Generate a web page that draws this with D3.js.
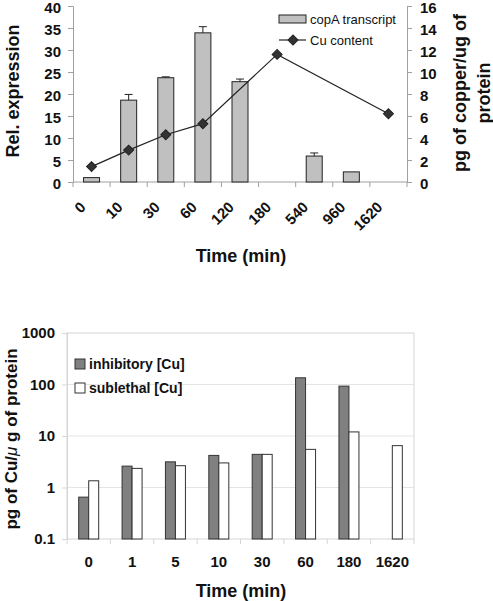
<!DOCTYPE html>
<html><head><meta charset="utf-8">
<script src="https://cdn.jsdelivr.net/npm/d3@7"></script>
<style>
html,body{margin:0;padding:0;background:#fff;}
text{font-family:"Liberation Sans",Arial,sans-serif;}
</style></head>
<body>
<svg id="chart" width="493" height="601"></svg>
<script>
// ---------- Top chart data ----------
const topCategories = ["0","10","30","60","120","180","540","960","1620"];
const copA = [1.0, 18.6, 23.7, 33.9, 22.8, null, 5.9, 2.3, null];
const copAErr = [0, 1.3, 0.2, 1.4, 0.6, null, 0.7, 0, null];
const cuContent = [1.4, 2.9, 4.3, 5.3, null, 11.6, null, null, 6.2];
const leftTicks = [0,5,10,15,20,25,30,35,40];
const rightTicks = [0,2,4,6,8,10,12,14,16];

// ---------- Bottom chart data ----------
const botCategories = ["0","1","5","10","30","60","180","1620"];
const inhibitory = [0.65, 2.6, 3.15, 4.2, 4.4, 135, 93, null];
const sublethal = [1.35, 2.35, 2.65, 3.0, 4.4, 5.5, 12.0, 6.5];
const logTicks = [0.1, 1, 10, 100, 1000];
const logTickLabels = ["0.1","1","10","100","1000"];

const svg = d3.select("#chart");
const axisGray = "#a0a0a0";

// ================= TOP CHART =================
const T = {l:73, r:407, t:6, b:182};
const xT = d3.scaleBand().domain(topCategories).range([T.l, T.r]).padding(0);
const yL = d3.scaleLinear().domain([0,40]).range([T.b, T.t]);
const yR = d3.scaleLinear().domain([0,16]).range([T.b, T.t]);
const gT = svg.append("g");

// left axis
const axL = gT.append("g").attr("transform",`translate(${T.l},0)`)
  .call(d3.axisLeft(yL).tickValues(leftTicks).tickSize(5).tickPadding(7).tickFormat(d3.format("d")));
// right axis
const axR = gT.append("g").attr("transform",`translate(${T.r},0)`)
  .call(d3.axisRight(yR).tickValues(rightTicks).tickSize(5).tickPadding(8).tickFormat(d3.format("d")));
[axL, axR].forEach(a=>{
  a.select(".domain").attr("stroke",axisGray);
  a.selectAll(".tick line").attr("stroke",axisGray);
  a.selectAll(".tick text").attr("font-size",15).attr("font-weight","bold").attr("fill","#111").attr("dy","0.4em");
});
// x axis line with ticks at band boundaries
gT.append("line").attr("x1",T.l).attr("x2",T.r).attr("y1",T.b).attr("y2",T.b).attr("stroke",axisGray);
const bTop = topCategories.map(c=>xT(c)).concat([xT(topCategories[topCategories.length-1])+xT.bandwidth()]);
gT.selectAll(".xtickT").data(bTop).join("line")
  .attr("x1",d=>d).attr("x2",d=>d).attr("y1",T.b).attr("y2",T.b+5).attr("stroke",axisGray);
gT.selectAll(".xlabT").data(topCategories).join("text")
  .attr("transform",d=>`translate(${xT(d)+xT.bandwidth()/2-5},208) rotate(-45)`)
  .attr("text-anchor","end").attr("font-size",15).attr("font-weight","bold").attr("fill","#111")
  .text(d=>d);

// bars
const bwT = 16;
const topBars = topCategories.map((c,i)=>({c, v:copA[i], e:copAErr[i]})).filter(d=>d.v!=null);
gT.selectAll(".barT").data(topBars).join("rect")
  .attr("x",d=>xT(d.c)+xT.bandwidth()/2-bwT/2).attr("width",bwT)
  .attr("y",d=>yL(d.v)).attr("height",d=>yL(0)-yL(d.v))
  .attr("fill","#c0c0c0").attr("stroke","#222").attr("stroke-width",1);
// error bars
const errs = topBars.filter(d=>d.e>0);
gT.selectAll(".errT").data(errs).join("line")
  .attr("x1",d=>xT(d.c)+xT.bandwidth()/2).attr("x2",d=>xT(d.c)+xT.bandwidth()/2)
  .attr("y1",d=>yL(d.v)).attr("y2",d=>yL(d.v+d.e)).attr("stroke","#222");
gT.selectAll(".capT").data(errs).join("line")
  .attr("x1",d=>xT(d.c)+xT.bandwidth()/2-4).attr("x2",d=>xT(d.c)+xT.bandwidth()/2+4)
  .attr("y1",d=>yL(d.v+d.e)).attr("y2",d=>yL(d.v+d.e)).attr("stroke","#222");

// line
const pts = topCategories.map((c,i)=>({c, v:cuContent[i]})).filter(d=>d.v!=null);
const line = d3.line().x(d=>xT(d.c)+xT.bandwidth()/2).y(d=>yR(d.v));
gT.append("path").datum(pts).attr("d",line).attr("fill","none").attr("stroke","#222").attr("stroke-width",1.2);
const diamond = d3.symbol().type(d3.symbolSquare).size(50);
gT.selectAll(".mk").data(pts).join("path")
  .attr("d",diamond)
  .attr("transform",d=>`translate(${xT(d.c)+xT.bandwidth()/2},${yR(d.v)}) rotate(45)`)
  .attr("fill","#333").attr("stroke","#222");

// legend
gT.append("rect").attr("x",279).attr("y",15).attr("width",27).attr("height",8)
  .attr("fill","#c0c0c0").attr("stroke","#222");
gT.append("text").attr("x",310).attr("y",19).attr("dy","0.35em").attr("font-size",13).attr("fill","#111").text("copA transcript");
gT.append("line").attr("x1",279).attr("x2",306).attr("y1",40).attr("y2",40).attr("stroke","#222").attr("stroke-width",1.2);
gT.append("path").attr("d",diamond).attr("transform","translate(293,40) rotate(45)").attr("fill","#333").attr("stroke","#222");
gT.append("text").attr("x",310).attr("y",40).attr("dy","0.35em").attr("font-size",13).attr("fill","#111").text("Cu content");

// titles
gT.append("text").attr("transform","translate(19,91) rotate(-90)").attr("text-anchor","middle")
  .attr("font-size",18).attr("font-weight","bold").attr("fill","#111").text("Rel. expression");
const rt = gT.append("text").attr("transform","translate(466,93) rotate(-90)").attr("text-anchor","middle")
  .attr("font-size",18).attr("font-weight","bold").attr("fill","#111");
rt.append("tspan").attr("x",0).attr("y",0).text("pg of copper/ug of");
rt.append("tspan").attr("x",0).attr("y",24).text("protein");
gT.append("text").attr("x",241).attr("y",262).attr("text-anchor","middle")
  .attr("font-size",18).attr("font-weight","bold").attr("fill","#111").text("Time (min)");

// ================= BOTTOM CHART =================
const B = {l:67, r:414, t:333, b:539};
const xB = d3.scaleBand().domain(botCategories).range([B.l, B.r]).padding(0);
const yB = d3.scaleLog().domain([0.1,1000]).range([B.b, B.t]);
const gB = svg.append("g");

// gridlines
gB.selectAll(".grid").data(logTicks.slice(1,-1)).join("line")
  .attr("x1",B.l).attr("x2",B.r).attr("y1",d=>yB(d)).attr("y2",d=>yB(d))
  .attr("stroke","#e4e4e4");
// frame
gB.append("rect").attr("x",B.l).attr("y",B.t).attr("width",B.r-B.l).attr("height",B.b-B.t)
  .attr("fill","none").attr("stroke","#d6d6d6");
// y axis
const axB = gB.append("g").attr("transform",`translate(${B.l},0)`)
  .call(d3.axisLeft(yB).tickValues(logTicks).tickSize(5).tickPadding(7).tickFormat((d,i)=>logTickLabels[i]));
axB.select(".domain").attr("stroke","#d6d6d6");
axB.selectAll(".tick line").attr("stroke","#d6d6d6");
axB.selectAll(".tick text").attr("font-size",15).attr("font-weight","bold").attr("fill","#111");
// x ticks
const bBot = botCategories.map(c=>xB(c)).concat([B.r]);
gB.selectAll(".xtickB").data(bBot).join("line")
  .attr("x1",d=>d).attr("x2",d=>d).attr("y1",B.b).attr("y2",B.b+5).attr("stroke","#d6d6d6");
gB.selectAll(".xlabB").data(botCategories).join("text")
  .attr("x",d=>xB(d)+xB.bandwidth()/2).attr("y",567).attr("text-anchor","middle")
  .attr("font-size",15).attr("font-weight","bold").attr("fill","#111").text(d=>d);

// bars
const bwB = 10;
const inhData = botCategories.map((c,i)=>({c,v:inhibitory[i]})).filter(d=>d.v!=null);
const subData = botCategories.map((c,i)=>({c,v:sublethal[i]})).filter(d=>d.v!=null);
gB.selectAll(".inh").data(inhData).join("rect")
  .attr("x",d=>xB(d.c)+xB.bandwidth()/2-bwB).attr("width",bwB)
  .attr("y",d=>yB(d.v)).attr("height",d=>B.b-yB(d.v))
  .attr("fill","#808080").attr("stroke","#333");
gB.selectAll(".sub").data(subData).join("rect")
  .attr("x",d=>xB(d.c)+xB.bandwidth()/2).attr("width",bwB)
  .attr("y",d=>yB(d.v)).attr("height",d=>B.b-yB(d.v))
  .attr("fill","#ffffff").attr("stroke","#333");

// legend
gB.append("rect").attr("x",75).attr("y",359).attr("width",10).attr("height",10).attr("fill","#808080").attr("stroke","#333");
gB.append("text").attr("x",89).attr("y",364).attr("dy","0.35em").attr("font-size",14).attr("font-weight","bold").attr("fill","#111").text("inhibitory [Cu]");
gB.append("rect").attr("x",75).attr("y",383).attr("width",10).attr("height",10).attr("fill","#fff").attr("stroke","#333");
gB.append("text").attr("x",89).attr("y",388).attr("dy","0.35em").attr("font-size",14).attr("font-weight","bold").attr("fill","#111").text("sublethal [Cu]");

// titles
const bt = gB.append("text").attr("transform","translate(17,439) rotate(-90)").attr("text-anchor","middle")
  .attr("font-size",17).attr("font-weight","bold").attr("fill","#111");
bt.append("tspan").text("pg of Cu/");
bt.append("tspan").attr("font-style","italic").attr("font-weight","normal").text("μ");
bt.append("tspan").text(" g of protein");
gB.append("text").attr("x",241).attr("y",597).attr("text-anchor","middle")
  .attr("font-size",18).attr("font-weight","bold").attr("fill","#111").text("Time (min)");
</script>
</body></html>
